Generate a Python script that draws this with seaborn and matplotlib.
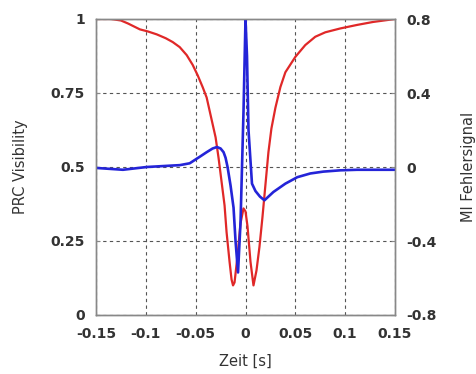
import numpy as np
import pandas as pd
import matplotlib
matplotlib.use("Agg")
import matplotlib.pyplot as plt
import seaborn as sns

# PRC visibility (left axis)
red_t = [-0.15, -0.135, -0.125, -0.118, -0.112, -0.106, -0.098, -0.089, -0.080, -0.073,
         -0.066, -0.059, -0.053, -0.048, -0.043, -0.039, -0.036, -0.033, -0.030, -0.027,
         -0.024, -0.021, -0.019, -0.016, -0.014, -0.0125, -0.011, -0.008, -0.005, -0.002,
         0.0, 0.002, 0.005, 0.008, 0.011, 0.014, 0.017, 0.020, 0.023, 0.026,
         0.030, 0.035, 0.040, 0.050, 0.060, 0.070, 0.080, 0.095, 0.112, 0.128, 0.15]
red_v = [1.0, 1.0, 0.995, 0.985, 0.975, 0.965, 0.958, 0.948, 0.935, 0.922,
         0.905, 0.878, 0.845, 0.81, 0.77, 0.735, 0.69, 0.645, 0.60, 0.53,
         0.45, 0.37, 0.28, 0.18, 0.12, 0.10, 0.11, 0.20, 0.31, 0.36,
         0.35, 0.30, 0.18, 0.10, 0.15, 0.23, 0.33, 0.44, 0.55, 0.63,
         0.70, 0.77, 0.82, 0.872, 0.912, 0.94, 0.955, 0.968, 0.98, 0.99, 1.0]

# MI error signal (right axis)
blue_t = [-0.15, -0.123, -0.099, -0.073, -0.066, -0.056, -0.046, -0.039, -0.033, -0.0286,
          -0.025, -0.022, -0.020, -0.018, -0.015, -0.012, -0.010, -0.0075, -0.005, -0.002,
          0.0, 0.0015, 0.003, 0.0065, 0.010, 0.0145, 0.019, 0.028, 0.040, 0.052,
          0.065, 0.078, 0.095, 0.112, 0.15]
blue_v = [-0.005, -0.015, 0.0, 0.008, 0.01, 0.02, 0.055, 0.08, 0.10, 0.108,
          0.10, 0.08, 0.05, 0.0, -0.10, -0.22, -0.40, -0.57, -0.30, 0.30,
          0.80, 0.60, 0.20, -0.09, -0.13, -0.16, -0.18, -0.135, -0.09, -0.055,
          -0.035, -0.025, -0.018, -0.015, -0.015]

x_ticks = [-0.15, -0.1, -0.05, 0, 0.05, 0.1, 0.15]
x_labels = ["-0.15", "-0.1", "-0.05", "0", "0.05", "0.1", "0.15"]
left_ticks = [0, 0.25, 0.5, 0.75, 1]
left_labels = ["0", "0.25", "0.5", "0.75", "1"]
right_ticks = [-0.8, -0.4, 0, 0.4, 0.8]
right_labels = ["-0.8", "-0.4", "0", "0.4", "0.8"]

sns.set_style("white")
plt.rcParams['font.family'] = ['DejaVu Sans']
plt.rcParams['axes.unicode_minus'] = False

df_red = pd.DataFrame({'t': red_t, 'v': red_v})
df_blue = pd.DataFrame({'t': blue_t, 'v': blue_v})

fig = plt.figure(figsize=(4.77, 3.74), dpi=100)
ax = fig.add_axes([96 / 477, 1 - 315 / 374, 299 / 477, 296 / 374])
ax2 = ax.twinx()

sns.lineplot(data=df_red, x='t', y='v', ax=ax, color='#e02828', linewidth=1.6)
sns.lineplot(data=df_blue, x='t', y='v', ax=ax2, color='#2424d8', linewidth=1.9)

ax.set_xlim(-0.15, 0.15)
ax.set_ylim(0, 1)
ax2.set_ylim(-0.8, 0.8)

ax.set_xticks(x_ticks)
ax.set_xticklabels(x_labels)
ax.set_yticks(left_ticks)
ax.set_yticklabels(left_labels)
ax2.set_yticks(right_ticks)
ax2.set_yticklabels(right_labels)

ax.grid(True, color='#555555', linestyle=(0, (3, 3)), linewidth=0.8)
tick_kw = dict(direction='in', length=3, labelsize=10, color='#888888', labelcolor='#333333')
ax.tick_params(axis='x', pad=9, **tick_kw)
ax.tick_params(axis='y', pad=8, **tick_kw)
ax2.tick_params(axis='y', pad=8, **tick_kw)
for lab in ax.get_xticklabels() + ax.get_yticklabels() + ax2.get_yticklabels():
    lab.set_fontweight('bold')

for a in (ax, ax2):
    for s in a.spines.values():
        s.set_color('#888888')
        s.set_linewidth(1.0)

ax.set_xlabel('Zeit [s]', fontsize=10.5, color='#333333')
ax.xaxis.set_label_coords(0.5, (315 - 361) / 296)
ax.xaxis.label.set_va('center')

ax.set_ylabel('PRC Visibility', fontsize=10.5, color='#333333')
ax.yaxis.set_label_coords((21 - 96) / 299, 0.5)
ax.yaxis.label.set_va('center')

ax2.set_ylabel('MI Fehlersignal', fontsize=10.5, color='#333333', rotation=90)
ax2.yaxis.set_label_coords((468 - 96) / 299, 0.5)
ax2.yaxis.label.set_va('center')

fig.savefig('out.png', dpi=100)
